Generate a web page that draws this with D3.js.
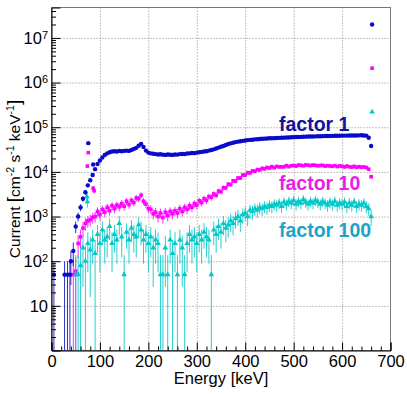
<!DOCTYPE html>
<html><head><meta charset="utf-8">
<script src="https://cdn.jsdelivr.net/npm/d3@7"></script>
<style>body{margin:0;background:#fff}svg{display:block;font-family:"Liberation Sans",Arial,Helvetica,sans-serif}</style>
</head><body><svg id="c" width="407" height="394"></svg>
<script>
// ---- data (bin centre energy in keV, current in cm^-2 s^-1 keV^-1) ----
const energy = [
  40,45,50,55,60,65,70,75,80,85,
  90,95,100,105,110,115,120,125,130,135,
  140,145,150,155,160,165,170,175,180,185,
  190,195,200,205,210,215,220,225,230,235,
  240,245,250,255,260,265,270,275,280,285,
  290,295,300,305,310,315,320,325,330,335,
  340,345,350,355,360,365,370,375,380,385,
  390,395,400,405,410,415,420,425,430,435,
  440,445,450,455,460,465,470,475,480,485,
  490,495,500,505,510,515,520,525,530,535,
  540,545,550,555,560,565,570,575,580,585,
  590,595,600,605,610,615,620,625,630,635,
  640,645,650,655,660];
const factor1 = [
  100,170,600,1000,1600,2500,3500,5000,6500,8500,
  11500,15000,18000,21000,24000,26000,27500,28500,29000,28500,
  29500,29000,29500,30000,29500,31000,32500,34500,38500,42000,
  36000,30000,27000,26000,25500,25000,24500,24800,24300,24000,
  24500,24200,24000,24600,24400,25000,25200,25000,25800,26000,
  26500,26300,27000,27500,28000,28500,29000,30000,31000,32000,
  33500,35000,36500,38000,40000,42000,43500,45000,46500,47500,
  48500,49500,50500,51500,52000,52500,53500,54000,54500,55000,
  55500,56000,56500,56500,57000,57500,57800,58000,58500,58800,
  59000,59500,60000,60200,60500,60800,61000,61500,61800,62000,
  62000,62500,62800,63000,63200,63500,63500,63800,64000,64200,
  64500,64500,64800,65000,65000,65200,65500,65300,65500,65800,
  66000,65500,65000,58000,38000];
const factor10 = [
  null,50,60,250,350,550,700,800,850,950,
  1000,1300,1100,1450,1250,1600,1350,1750,1500,1800,
  1650,1950,1700,2200,1850,2300,2050,2600,2500,3000,
  2200,1900,1500,1450,1150,1250,1000,1200,950,1250,
  1050,1300,1150,1350,1200,1500,1300,1600,1450,1750,
  1600,1950,1800,2250,2050,2500,2300,2800,2700,3200,
  3000,3700,3600,4400,4400,5300,5200,6300,6200,7300,
  7300,8500,8500,9600,9500,10500,10300,11300,11100,12000,
  11700,12600,12200,13100,12400,13300,12900,13000,13000,13800,
  13100,13700,13900,13500,14200,14000,13700,14300,14100,13800,
  14200,14000,13700,13900,14000,13500,13800,13600,13300,13800,
  13200,13600,13300,12900,13500,13000,12800,13300,12700,13100,
  12700,12900,12500,11500,7800];
const factor100 = [
  null,null,50,50,80,200,100,250,180,300,
  150,400,250,500,300,350,600,250,400,300,
  700,350,50,450,300,550,400,350,650,500,
  300,400,250,350,200,300,250,50,50,200,
  50,300,150,250,50,300,200,50,250,400,
  300,350,250,400,300,450,350,300,50,500,
  400,600,450,700,550,650,800,700,900,1000,
  800,1100,1200,1000,1400,1300,1500,1400,1600,1500,
  1700,1600,1800,1700,1900,1800,2000,1700,2100,1900,
  2200,2000,2300,1900,2200,2000,2400,2100,1900,2200,
  2000,2300,2100,1900,2200,2000,1800,2100,1900,2200,
  1800,2000,1900,2100,1700,2000,1800,2100,1700,1900,
  1800,2000,1700,1500,1000];
// extra single bins (low-energy counts, 75-85 keV spike, last/overflow bin)
const extraE1 = [5, 27, 33, 38, 76, 86, 662];
const extraV1 = [50, 50, 50, 50, 44000, 14600, 2.0e7];
const extraXErr1 = [0, 0, 8, 0, 0, 0, 0];
const extraE10 = [74, 76, 86, 88, 662];
const extraV10 = [13500, 27000, 4300, 3800, 2.1e6];
const extraE100 = [73, 74, 662];
const extraV100 = [2800, 2150, 2.2e5];
// weight of one count in each histogram (for Poisson error bars)
const countWeight = {f1: 50, f10: 70, f100: 150};
const xMajorTicks = [0,100,200,300,400,500,600,700];
const yMajorTicks = [10,100,1e3,1e4,1e5,1e6,1e7];
const labels = ["factor 1","factor 10","factor 100"];

// ---- layout ----
const L = 51.5, R = 390.5, T = 7.5, B = 350.5;
const svg = d3.select('#c');
const x = d3.scaleLinear().domain([0,700]).range([L,R]);
const y = d3.scaleLog().domain([1,4.8e7]).range([B,T]);
const col = {f1:'#0a0acc', f10:'#ff00ff', f100:'#00c8c8'};

svg.append('rect').attr('width',407).attr('height',394).attr('fill','#fff');

// grid
svg.append('g').attr('transform',`translate(0,${B})`)
  .call(d3.axisBottom(x).tickValues(xMajorTicks.slice(1,-1)).tickSize(-(B-T)).tickFormat(''))
  .call(g=>{g.select('.domain').remove();g.selectAll('line').attr('stroke','#888').attr('stroke-dasharray','1,2');});
svg.append('g').attr('transform',`translate(${L},0)`)
  .call(d3.axisLeft(y).tickValues(yMajorTicks).tickSize(-(R-L)).tickFormat(''))
  .call(g=>{g.select('.domain').remove();g.selectAll('line').attr('stroke','#888').attr('stroke-dasharray','1,2');});

// frame
svg.append('rect').attr('x',L).attr('y',T).attr('width',R-L).attr('height',B-T)
  .attr('fill','none').attr('stroke','#777').attr('stroke-width',1);

// clip
svg.append('clipPath').attr('id','clip').append('rect').attr('x',L).attr('y',T).attr('width',R-L).attr('height',B-T);
const plot = svg.append('g').attr('clip-path','url(#clip)');

function series(E, V, XE, k, color, shape){
  const data = E.map((e,i)=>({e, v:V[i], xe: XE ? XE[i] : 0})).filter(d=>d.v!=null);
  const g = plot.append('g');
  g.selectAll('line.ev').data(data).join('line')
    .attr('x1',d=>x(d.e)).attr('x2',d=>x(d.e))
    .attr('y1',d=>y(d.v+Math.sqrt(d.v*k)))
    .attr('y2',d=>{const lo=d.v-Math.sqrt(d.v*k);return lo>1?y(lo):B+2;})
    .attr('stroke',color).attr('stroke-width',1).attr('opacity',0.85);
  g.selectAll('line.eh').data(data.filter(d=>d.xe>0)).join('line')
    .attr('x1',d=>x(d.e-d.xe)).attr('x2',d=>x(d.e+d.xe))
    .attr('y1',d=>y(d.v)).attr('y2',d=>y(d.v))
    .attr('stroke',color).attr('stroke-width',1.2);
  if(shape==='circle'){
    g.selectAll('circle').data(data).join('circle')
      .attr('cx',d=>x(d.e)).attr('cy',d=>y(d.v)).attr('r',2.2).attr('fill',color);
  } else if(shape==='square'){
    g.selectAll('rect').data(data).join('rect')
      .attr('x',d=>x(d.e)-1.8).attr('y',d=>y(d.v)-1.8).attr('width',3.6).attr('height',3.6).attr('fill',color);
  } else {
    const sym = d3.symbol(d3.symbolTriangle).size(14);
    g.selectAll('path').data(data).join('path')
      .attr('transform',d=>`translate(${x(d.e)},${y(d.v)})`).attr('d',sym).attr('fill',color);
  }
}
series(energy, factor10, null, countWeight.f10, col.f10, 'square');
series(extraE10, extraV10, null, countWeight.f10, col.f10, 'square');
series(energy, factor100, null, countWeight.f100, col.f100, 'triangle');
series(extraE100, extraV100, null, countWeight.f100, col.f100, 'triangle');
series(energy, factor1, null, countWeight.f1, col.f1, 'circle');
series(extraE1, extraV1, extraXErr1, countWeight.f1, col.f1, 'circle');

// axes
const fontFam = '"Liberation Sans",Arial,Helvetica,sans-serif';
const minorX = d3.range(0,701,20).filter(v=>v%100!==0);
svg.append('g').attr('transform',`translate(0,${B})`)
  .call(d3.axisBottom(x).tickValues(minorX).tickSize(-4).tickFormat(''))
  .call(g=>{g.select('.domain').remove();g.selectAll('line').attr('stroke','#000');});
svg.append('g').attr('transform',`translate(0,${B})`)
  .call(d3.axisBottom(x).tickValues(xMajorTicks).tickSize(-8).tickPadding(4.5).tickFormat(d3.format('d')))
  .call(g=>{g.select('.domain').attr('stroke','#000');
    g.selectAll('line').attr('stroke','#000');
    g.selectAll('text').attr('font-size',16.5).attr('font-family',fontFam).attr('fill','#000');});

const minorY = [];
for(let k=0;k<8;k++) for(let m=2;m<=9;m++){const v=m*Math.pow(10,k); if(v<4.8e7) minorY.push(v);}
svg.append('g').attr('transform',`translate(${L},0)`)
  .call(d3.axisLeft(y).tickValues(minorY).tickSize(-4.5).tickFormat(''))
  .call(g=>{g.select('.domain').remove();g.selectAll('line').attr('stroke','#000');});
svg.append('g').attr('transform',`translate(${L},0)`)
  .call(d3.axisLeft(y).tickValues(yMajorTicks).tickSize(-9).tickPadding(3.5).tickFormat(d=>'10'))
  .call(g=>{g.select('.domain').attr('stroke','#000');
    g.selectAll('line').attr('stroke','#000');
    g.selectAll('text').attr('font-size',16.5).attr('font-family',fontFam).attr('fill','#000')
      .each(function(d){
        const e = Math.round(Math.log10(d));
        const t = d3.select(this); t.text(null);
        t.append('tspan').text('10');
        if(e>1) t.append('tspan').attr('dy','-0.45em').attr('font-size',11).text(e);
      });});

// axis titles
svg.append('text').attr('x',(L+R)/2).attr('y',384).attr('text-anchor','middle')
  .attr('font-size',16.5).attr('font-family',fontFam).text('Energy [keV]');
const yt = svg.append('text').attr('transform',`translate(19.5,${(T+B)/2}) rotate(-90)`)
  .attr('text-anchor','middle').attr('font-size',15.5).attr('font-family',fontFam);
yt.append('tspan').text('Current ');
yt.append('tspan').attr('font-size',19).text('[');
yt.append('tspan').text('cm');
yt.append('tspan').attr('dy',-6).attr('font-size',10.5).text('-2');
yt.append('tspan').attr('dy',6).text(' s');
yt.append('tspan').attr('dy',-6).attr('font-size',10.5).text('-1');
yt.append('tspan').attr('dy',6).text(' keV');
yt.append('tspan').attr('dy',-6).attr('font-size',10.5).text('-1');
yt.append('tspan').attr('dy',6).attr('font-size',19).text(']');

// series labels
const labelColors = ['#12129c','#e81ee8','#1ca4c8'];
const labelY = [131, 190, 236.5];
labels.forEach((s,i)=>{
  svg.append('text').attr('x',279).attr('y',labelY[i]).attr('font-size',19.5)
    .attr('font-weight','bold').attr('font-family',fontFam).attr('fill',labelColors[i]).text(s);
});
</script></body></html>
